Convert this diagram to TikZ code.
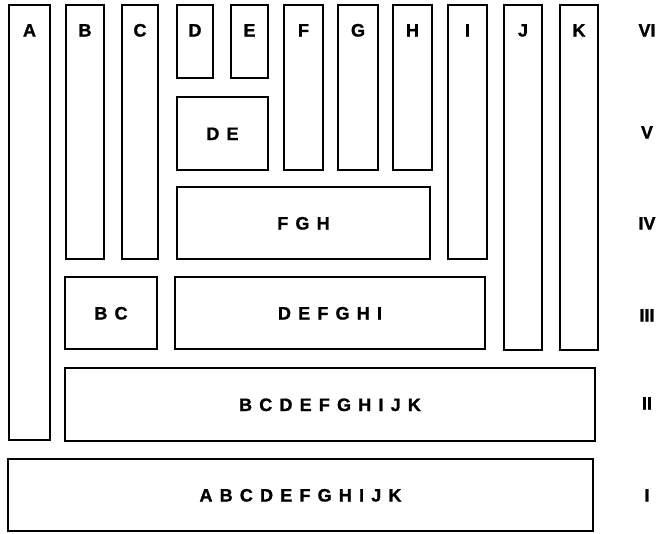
\documentclass[tikz,border=0pt]{standalone}
\usepackage{fontspec}
\setmainfont{Liberation Sans}[BoldFeatures={FakeBold=1.2}]
\def\gobbleone#1{}
\def\trk#1{\trkB#1\relax}
\def\trkB#1{#1\futurelet\next\trkC}
\def\trkC{\ifx\next\relax\expandafter\gobbleone\else\kern.4em\expandafter\trkB\fi}
\tikzset{
  box/.style={draw=black, line width=2.5pt, inner sep=0pt, outer sep=0pt},
  lbl/.style={font=\fontsize{18}{21}\selectfont\bfseries, inner sep=0pt, anchor=base},
  num/.style={font=\fontsize{18}{21}\selectfont\bfseries, inner sep=0pt, anchor=base}
}
\newcommand\bx[5]{\node[box, minimum width={(#4-#2)*1pt}, minimum height={(#5-#3)*1pt}] (#1) at ({(#2+#4)/2},{(#3+#5)/2}) {};}
\begin{document}
\begin{tikzpicture}[x=1pt,y=-1pt]
\useasboundingbox (0,0) rectangle (661,533);
% boxes
\bx{A}{9}{5}{50}{440}
\bx{B}{66}{5}{104}{259}
\bx{C}{122}{5}{158}{259}
\bx{D}{177}{5}{213}{78}
\bx{E}{231}{5}{268}{78}
\bx{F}{284}{5}{323}{170}
\bx{G}{338}{5}{378}{170}
\bx{H}{393}{5}{432}{170}
\bx{I}{448}{5}{487}{259}
\bx{J}{504}{5}{542}{350}
\bx{K}{560}{5}{598}{350}
\bx{DE}{177}{97}{268}{170}
\bx{FGH}{177}{187}{430}{259}
\bx{BC}{65}{277}{157}{349}
\bx{DEFGHI}{175}{277}{485}{349}
\bx{BCDEFGHIJK}{65}{368}{595}{441}
\bx{ABCDEFGHIJK}{8}{459}{593}{531}
% single letter labels
\foreach \n in {A,B,C,D,E,F,G,H,I,J,K}{
  \node[lbl] (t\n) at (\n.north |- 0,36.5) {\n};
}
% multi-letter labels
\node[lbl] (tDE) at ([yshift=-6.5pt]DE.center) {\trk{DE}};
\node[lbl] (tFGH) at ([yshift=-6.5pt]FGH.center) {\trk{FGH}};
\node[lbl] (tBC) at ([yshift=-6.5pt]BC.center) {\trk{BC}};
\node[lbl] (tDEFGHI) at ([yshift=-6.5pt]DEFGHI.center) {\trk{DEFGHI}};
\node[lbl] (tBCDEFGHIJK) at ([yshift=-6.5pt]BCDEFGHIJK.center) {\trk{BCDEFGHIJK}};
\node[lbl] (tABCDEFGHIJK) at ([yshift=-6.5pt]ABCDEFGHIJK.center) {\trk{ABCDEFGHIJK}};
% level numerals
\node[num] (r6) at (647,36.5) {VI};
\node[num] (r5) at (647,138.5) {V};
\node[num] (r4) at (647,229.5) {IV};
\node[num] (r3) at (647,321.5) {III};
\node[num] (r2) at (647,409.5) {II};
\node[num] (r1) at (647,501.5) {I};
\end{tikzpicture}
\end{document}
